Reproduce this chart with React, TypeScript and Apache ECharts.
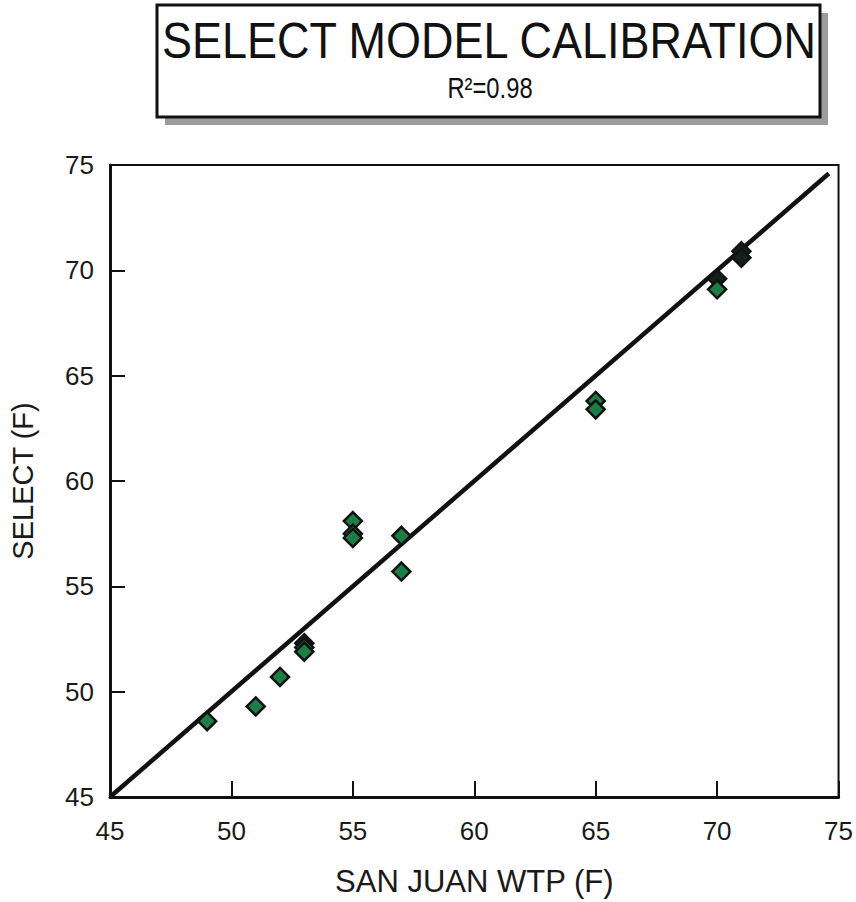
import React, { useEffect, useRef } from "react";
import * as echarts from "echarts";

const titleText = "SELECT MODEL CALIBRATION";
const subtitleText = "R²=0.98";
const xAxisName = "SAN JUAN WTP (F)";
const yAxisName = "SELECT (F)";

const sanJuanWTP = [49, 51, 52, 53, 53, 53, 55, 55, 55, 57, 57, 65, 65, 70, 70, 71, 71];
const selectModel = [48.6, 49.3, 50.7, 52.3, 52.1, 51.9, 58.1, 57.5, 57.3, 57.4, 55.7, 63.8, 63.4, 69.6, 69.1, 70.9, 70.6];
const darkPoints = [3, 13, 15, 16];

const fitLineX = [45, 74.6];
const fitLineY = [45, 74.6];

export default function App() {
  const ref = useRef<HTMLDivElement>(null);
  useEffect(() => {
    if (!ref.current) return;
    const chart = echarts.init(ref.current, null, { renderer: "svg" });
    const font = "'Liberation Sans', Arial, Helvetica, sans-serif";
    const scatterData = sanJuanWTP.map((x, i) => {
      const dark = darkPoints.indexOf(i) >= 0;
      return {
        value: [x, selectModel[i]],
        itemStyle: {
          color: dark ? "#14201a" : "#1c7d45",
          borderColor: "#121212",
          borderWidth: 2.5,
          opacity: 1,
        },
      };
    });
    chart.setOption({
      animation: false,
      backgroundColor: "#ffffff",
      grid: {
        left: 108,
        top: 165,
        width: 731,
        height: 633,
        show: true,
        borderColor: "#111",
        borderWidth: 2,
        backgroundColor: "transparent",
      },
      xAxis: {
        type: "value",
        min: 45,
        max: 75,
        interval: 5,
        name: xAxisName,
        nameLocation: "middle",
        nameGap: 69,
        nameTextStyle: { fontSize: 31, color: "#1a1a1a", fontFamily: font },
        axisLine: { show: true, onZero: false, lineStyle: { color: "#111", width: 3 } },
        axisTick: { show: true, inside: true, length: 16, lineStyle: { color: "#111", width: 2 } },
        axisLabel: { fontSize: 26, color: "#1a1a1a", fontFamily: font, margin: 21 },
        splitLine: { show: false },
      },
      yAxis: {
        type: "value",
        min: 45,
        max: 75,
        interval: 5,
        name: yAxisName,
        nameLocation: "middle",
        nameGap: 73,
        nameRotate: 90,
        nameTextStyle: { fontSize: 29, color: "#1a1a1a", fontFamily: font },
        axisLine: { show: true, onZero: false, lineStyle: { color: "#111", width: 3 } },
        axisTick: { show: true, inside: true, length: 15, lineStyle: { color: "#111", width: 2 } },
        axisLabel: { fontSize: 26, color: "#1a1a1a", fontFamily: font, margin: 16 },
        splitLine: { show: false },
      },
      graphic: [
        {
          type: "rect",
          shape: { x: 165, y: 13, width: 663, height: 112 },
          style: { fill: "#9c9c9c" },
          z: 1,
        },
        {
          type: "rect",
          shape: { x: 157, y: 5, width: 663, height: 112 },
          style: { fill: "#ffffff", stroke: "#111", lineWidth: 3 },
          z: 2,
        },
        {
          type: "text",
          x: 489,
          y: 41,
          scaleY: 1.12,
          style: {
            text: titleText,
            fontSize: 45,
            fontFamily: font,
            fill: "#111",
            align: "center",
            verticalAlign: "middle",
          },
          z: 3,
        },
        {
          type: "text",
          x: 490,
          y: 88,
          scaleX: 0.82,
          style: {
            text: subtitleText,
            fontSize: 29,
            fontFamily: font,
            fill: "#111",
            align: "center",
            verticalAlign: "middle",
          },
          z: 3,
        },
      ],
      series: [
        {
          type: "line",
          data: fitLineX.map((x, i) => [x, fitLineY[i]]),
          showSymbol: false,
          symbol: "none",
          lineStyle: { color: "#111", width: 4.5 },
          z: 2,
          silent: true,
        },
        {
          type: "scatter",
          symbol: "diamond",
          symbolSize: 18,
          data: scatterData,
          z: 3,
        },
      ],
    });
    return () => chart.dispose();
  }, []);
  return (
    <div
      ref={ref}
      style={{ position: "fixed", left: 0, top: 0, width: 856, height: 902 }}
    />
  );
}
